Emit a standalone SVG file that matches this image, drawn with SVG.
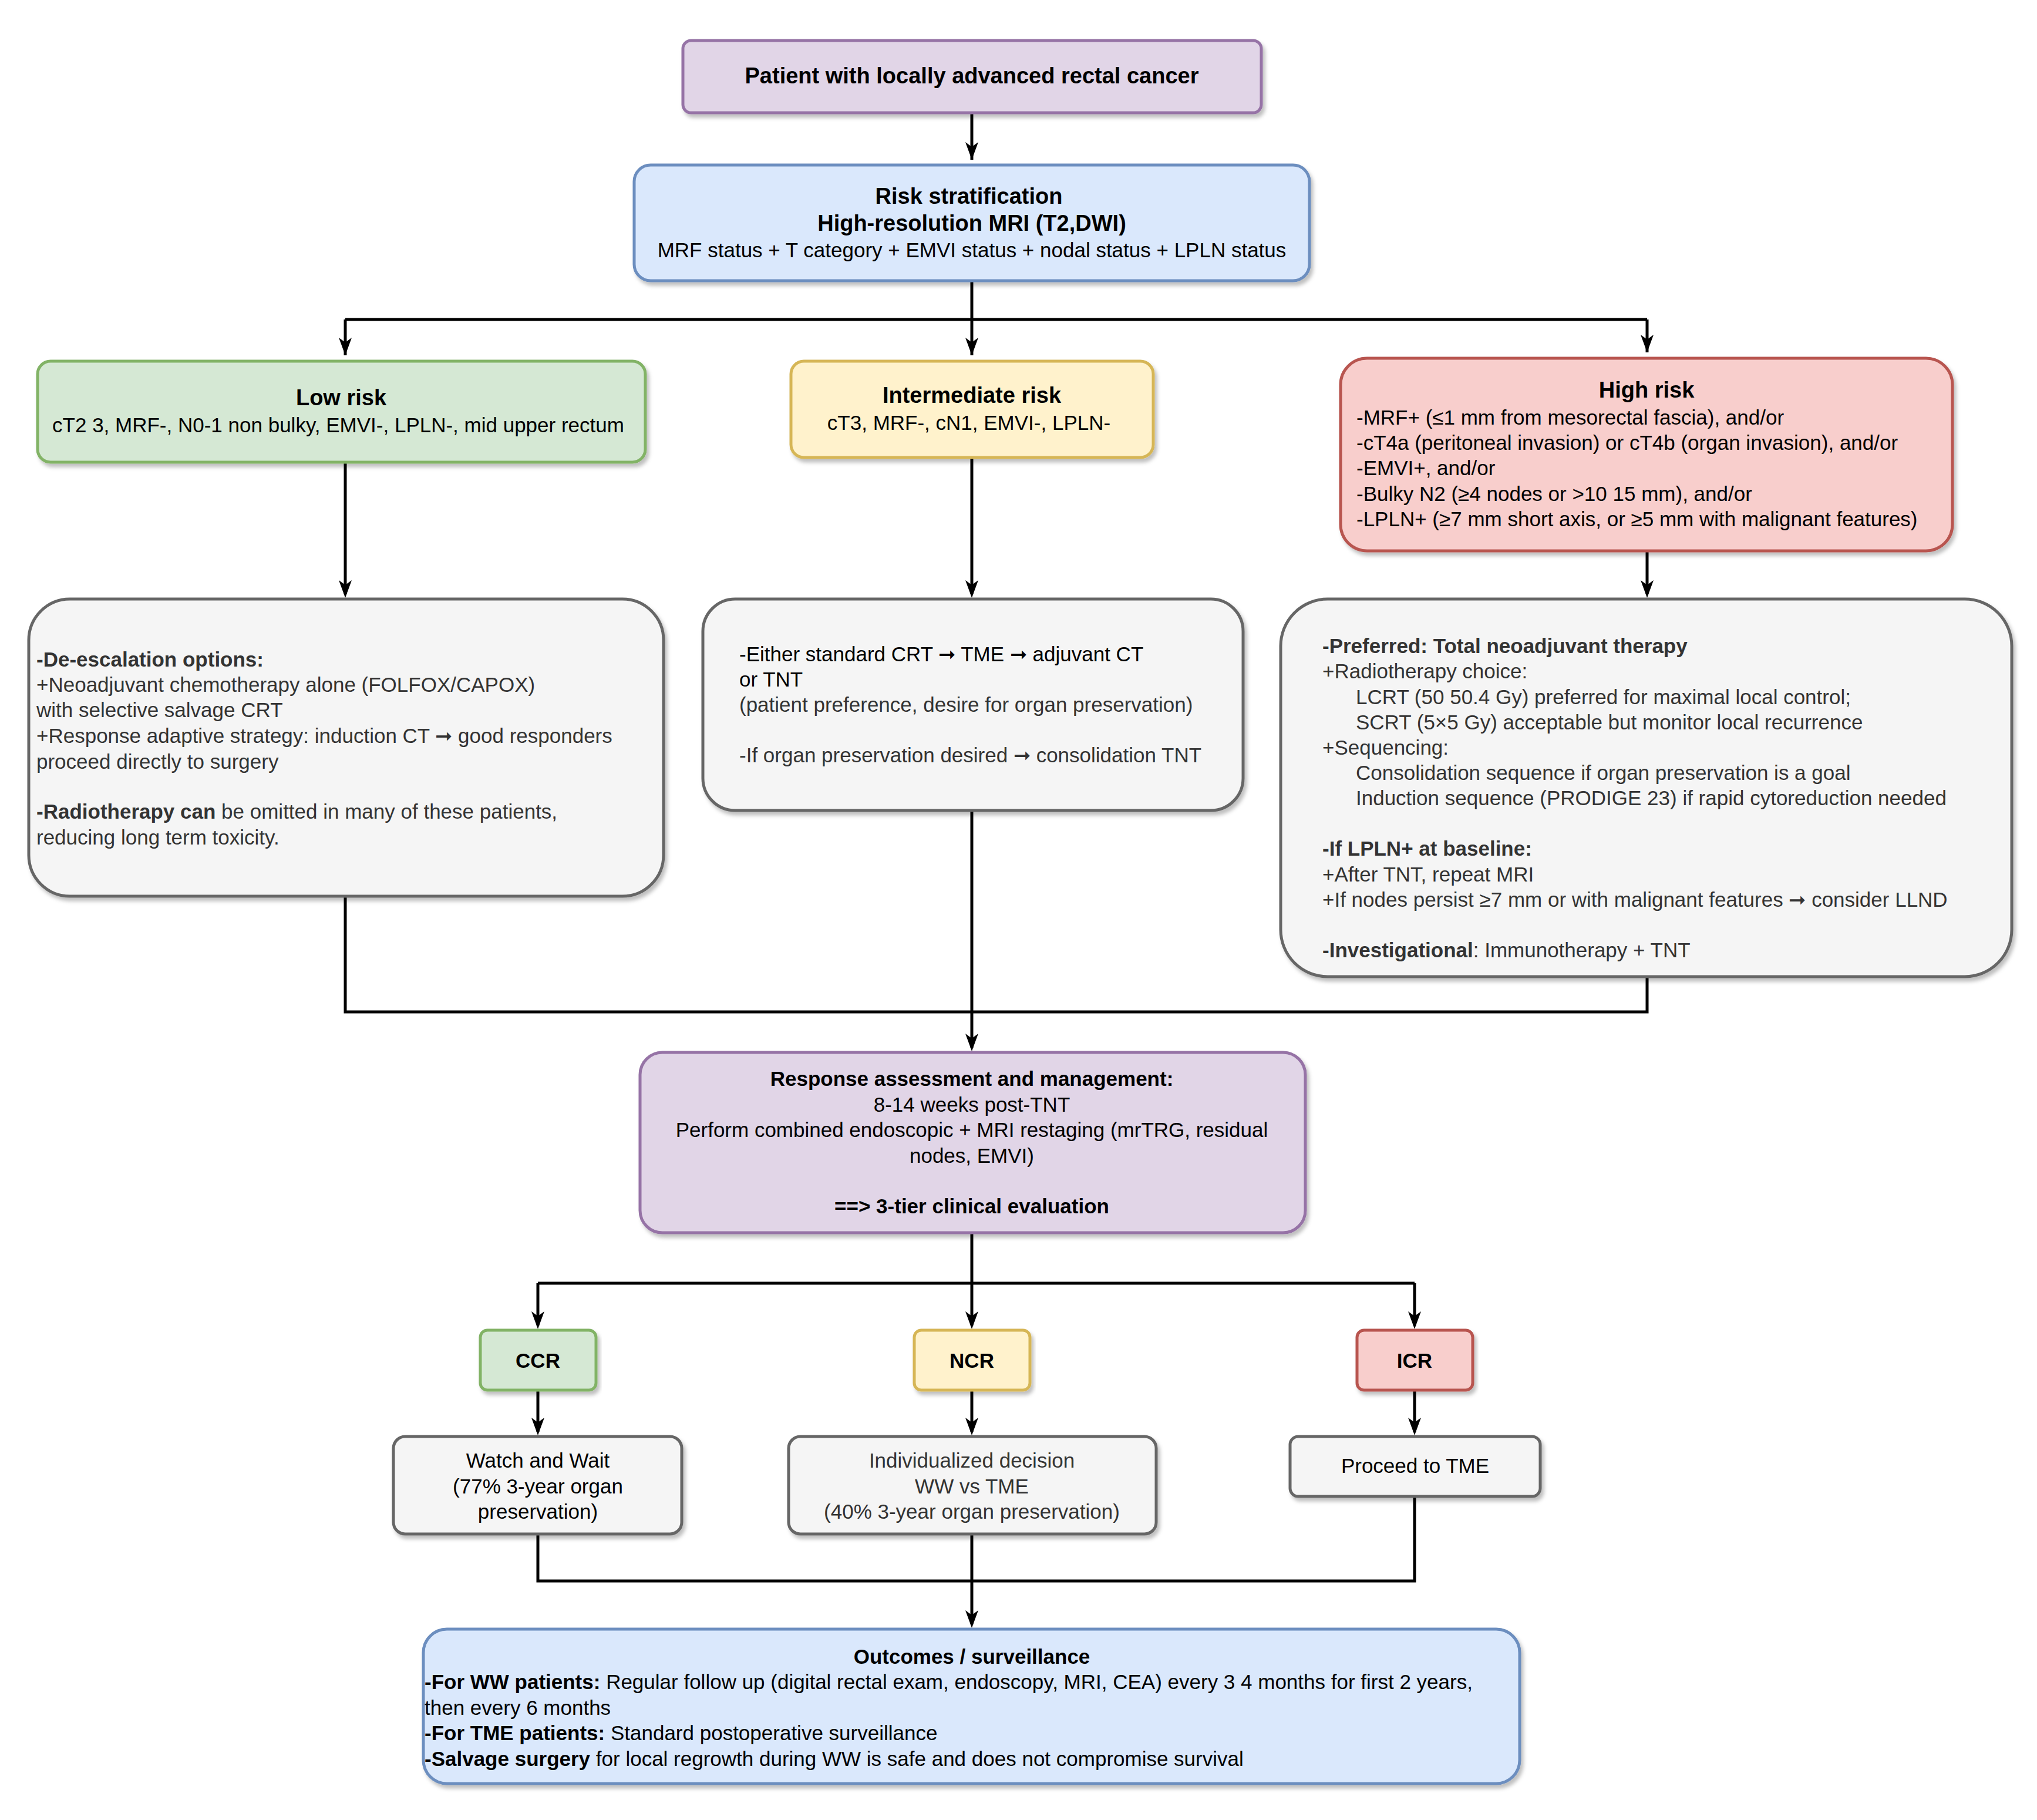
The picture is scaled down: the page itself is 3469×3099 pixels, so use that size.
<svg xmlns="http://www.w3.org/2000/svg" width="3469" height="3099" viewBox="0 0 3469 3099">
<style>
text{font-family:"Liberation Sans",Arial,sans-serif;font-size:35px;fill:#000;dominant-baseline:central}
.b{font-weight:bold}
.t{font-size:38px;font-weight:bold}
.c{text-anchor:middle}
.g{fill:#333}
rect{stroke-width:5;filter:url(#sh)}
.pu{fill:#e1d5e7;stroke:#9673a6}
.bl{fill:#dae8fc;stroke:#6c8ebf}
.gr{fill:#d5e8d4;stroke:#82b366}
.ye{fill:#fff2cc;stroke:#d6b656}
.re{fill:#f8cecc;stroke:#b85450}
.gy{fill:#f5f5f5;stroke:#666666}
#edges path{fill:none;stroke:#000;stroke-width:5}
</style>
<defs>
<filter id="sh" x="-5%" y="-5%" width="110%" height="120%"><feDropShadow dx="4" dy="6" stdDeviation="3" flood-color="#000" flood-opacity="0.25"/></filter>
<marker id="ar" viewBox="0 0 10 10" refX="9" refY="5" markerWidth="6" markerHeight="8" orient="auto" markerUnits="userSpaceOnUse" style="overflow:visible"><path d="M0,0 L10,5 L0,10 L3,5 Z" fill="#000" transform="scale(2.4)" /></marker>
</defs>
<rect width="3469" height="3099" fill="#fff" style="filter:none;stroke:none"/>
<g id="edges">
<path d="M1655,192 V272" marker-end="url(#a2)"/>
<path d="M1655,478 V544 M588,544 H2805"/>
<path d="M588,544 V605"/><path d="M1655,544 V605"/><path d="M2805,544 V600"/>
<path d="M588,787 V1012"/><path d="M1655,779 V1012"/><path d="M2805,938 V1012"/>
<path d="M588,1526 V1723 H2805 V1663 M1655,1380 V1784"/>
<path d="M1655,2099 V2185 M916,2185 H2409"/>
<path d="M916,2185 V2257"/><path d="M1655,2185 V2257"/><path d="M2409,2185 V2257"/>
<path d="M916,2367 V2438"/><path d="M1655,2367 V2438"/><path d="M2409,2367 V2438"/>
<path d="M916,2612 V2692 H2409 V2548 M1655,2612 V2766"/>
</g>
<g id="arrowheads" fill="#000">
<path d="M1655,272 l-11,-30 l11,8 l11,-8 z"/>
<path d="M588,605 l-11,-30 l11,8 l11,-8 z"/>
<path d="M1655,605 l-11,-30 l11,8 l11,-8 z"/>
<path d="M2805,600 l-11,-30 l11,8 l11,-8 z"/>
<path d="M588,1018 l-11,-30 l11,8 l11,-8 z"/>
<path d="M1655,1018 l-11,-30 l11,8 l11,-8 z"/>
<path d="M2805,1018 l-11,-30 l11,8 l11,-8 z"/>
<path d="M1655,1790 l-11,-30 l11,8 l11,-8 z"/>
<path d="M916,2263 l-11,-30 l11,8 l11,-8 z"/>
<path d="M1655,2263 l-11,-30 l11,8 l11,-8 z"/>
<path d="M2409,2263 l-11,-30 l11,8 l11,-8 z"/>
<path d="M916,2444 l-11,-30 l11,8 l11,-8 z"/>
<path d="M1655,2444 l-11,-30 l11,8 l11,-8 z"/>
<path d="M2409,2444 l-11,-30 l11,8 l11,-8 z"/>
<path d="M1655,2772 l-11,-30 l11,8 l11,-8 z"/>
</g>
<g id="start"><rect class="pu" x="1163" y="69" width="985" height="123" rx="14"/>
<text class="t c" x="1655" y="129">Patient with locally advanced rectal cancer</text></g>
<g id="risk"><rect class="bl" x="1080" y="281" width="1150" height="197" rx="28"/>
<text class="t c" x="1650" y="334">Risk stratification</text>
<text class="t c" x="1655" y="380">High-resolution MRI (T2,DWI)</text>
<text class="c" x="1655" y="425">MRF status + T category + EMVI status + nodal status + LPLN status</text></g>
<g id="low"><rect class="gr" x="64" y="615" width="1035" height="172" rx="22"/>
<text class="t c" x="581" y="677">Low risk</text>
<text class="c" x="576" y="723">cT2 3, MRF-, N0-1 non bulky, EMVI-, LPLN-, mid upper rectum</text></g>
<g id="intermediate"><rect class="ye" x="1347" y="615" width="617" height="164" rx="22"/>
<text class="t c" x="1655" y="673">Intermediate risk</text>
<text class="c" x="1650" y="719">cT3, MRF-, cN1, EMVI-, LPLN-</text></g>
<g id="high"><rect class="re" x="2283" y="610" width="1042" height="328" rx="45"/>
<text class="t c" x="2804" y="664">High risk</text>
<text x="2310" y="710">-MRF+ (≤1 mm from mesorectal fascia), and/or</text>
<text x="2310" y="753">-cT4a (peritoneal invasion) or cT4b (organ invasion), and/or</text>
<text x="2310" y="796">-EMVI+, and/or</text>
<text x="2310" y="840">-Bulky N2 (≥4 nodes or &gt;10 15 mm), and/or</text>
<text x="2310" y="883">-LPLN+ (≥7 mm short axis, or ≥5 mm with malignant features)</text></g>
<g id="low-detail"><rect class="gy" x="49" y="1020" width="1081" height="506" rx="70"/>
<text class="g" x="62" y="1122"><tspan class="b">-De-escalation options:</tspan></text>
<text class="g" x="62" y="1165">+Neoadjuvant chemotherapy alone (FOLFOX/CAPOX)</text>
<text class="g" x="62" y="1208">with selective salvage CRT</text>
<text class="g" x="62" y="1252">+Response adaptive strategy: induction CT ➞ good responders</text>
<text class="g" x="62" y="1296"> proceed directly to surgery</text>
<text class="g" x="62" y="1381"><tspan class="b">-Radiotherapy can</tspan> be omitted in many of these patients,</text>
<text class="g" x="62" y="1425">reducing long term toxicity.</text></g>
<g id="mid-detail"><rect class="gy" x="1197" y="1020" width="920" height="360" rx="55"/>
<text x="1259" y="1113">-Either standard CRT ➞ TME ➞ adjuvant CT</text>
<text x="1259" y="1156">or TNT</text>
<text class="g" x="1259" y="1199">(patient preference, desire for organ preservation)</text>
<text class="g" x="1259" y="1285">-If organ preservation desired ➞ consolidation TNT</text></g>
<g id="high-detail"><rect class="gy" x="2181" y="1020" width="1245" height="643" rx="80"/>
<text class="b g" x="2252" y="1099">-Preferred: Total neoadjuvant therapy</text>
<text class="g" x="2252" y="1142">+Radiotherapy choice:</text>
<text class="g" x="2309" y="1186">LCRT (50 50.4 Gy) preferred for maximal local control;</text>
<text class="g" x="2309" y="1229">SCRT (5×5 Gy) acceptable but monitor local recurrence</text>
<text class="g" x="2252" y="1272">+Sequencing:</text>
<text class="g" x="2309" y="1315">Consolidation sequence if organ preservation is a goal</text>
<text class="g" x="2309" y="1358">Induction sequence (PRODIGE 23) if rapid cytoreduction needed</text>
<text class="b g" x="2252" y="1444">-If LPLN+ at baseline:</text>
<text class="g" x="2252" y="1488">+After TNT, repeat MRI</text>
<text class="g" x="2252" y="1531">+If nodes persist ≥7 mm or with malignant features ➞ consider LLND</text>
<text class="g" x="2252" y="1617"><tspan class="b">-Investigational</tspan>: Immunotherapy + TNT</text></g>
<g id="response"><rect class="pu" x="1090" y="1792" width="1133" height="307" rx="38"/>
<text class="b c" x="1655" y="1836">Response assessment and management:</text>
<text class="c" x="1655" y="1880">8-14 weeks post-TNT</text>
<text class="c" x="1655" y="1923">Perform combined endoscopic + MRI restaging (mrTRG, residual</text>
<text class="c" x="1655" y="1967">nodes, EMVI)</text>
<text class="b c" x="1655" y="2053">==&gt; 3-tier clinical evaluation</text></g>
<g id="ccr"><rect class="gr" x="818" y="2265" width="197" height="102" rx="12"/><text class="b c" x="916" y="2316">CCR</text></g>
<g id="ncr"><rect class="ye" x="1557" y="2265" width="197" height="102" rx="12"/><text class="b c" x="1655" y="2316">NCR</text></g>
<g id="icr"><rect class="re" x="2311" y="2265" width="197" height="102" rx="12"/><text class="b c" x="2409" y="2316">ICR</text></g>
<g id="ww"><rect class="gy" x="670" y="2446" width="491" height="166" rx="20"/>
<text class="c" x="916" y="2486">Watch and Wait</text>
<text class="c" x="916" y="2530">(77% 3-year organ</text>
<text class="c" x="916" y="2573">preservation)</text></g>
<g id="indiv"><rect class="gy" x="1343" y="2446" width="626" height="166" rx="20"/>
<text class="c g" x="1655" y="2486">Individualized decision</text>
<text class="c g" x="1655" y="2530">WW vs TME</text>
<text class="c g" x="1655" y="2573">(40% 3-year organ preservation)</text></g>
<g id="tme"><rect class="gy" x="2197" y="2446" width="426" height="102" rx="14"/>
<text class="c" x="2410" y="2495">Proceed to TME</text></g>
<g id="outcomes"><rect class="bl" x="721" y="2774" width="1867" height="263" rx="40"/>
<text class="b c" x="1655" y="2820">Outcomes / surveillance</text>
<text x="723" y="2863"><tspan class="b">-For WW patients:</tspan> Regular follow up (digital rectal exam, endoscopy, MRI, CEA) every 3 4 months for first 2 years,</text>
<text x="723" y="2907">then every 6 months</text>
<text x="723" y="2950"><tspan class="b">-For TME patients:</tspan> Standard postoperative surveillance</text>
<text x="723" y="2994"><tspan class="b">-Salvage surgery</tspan> for local regrowth during WW is safe and does not compromise survival</text></g>
</svg>
